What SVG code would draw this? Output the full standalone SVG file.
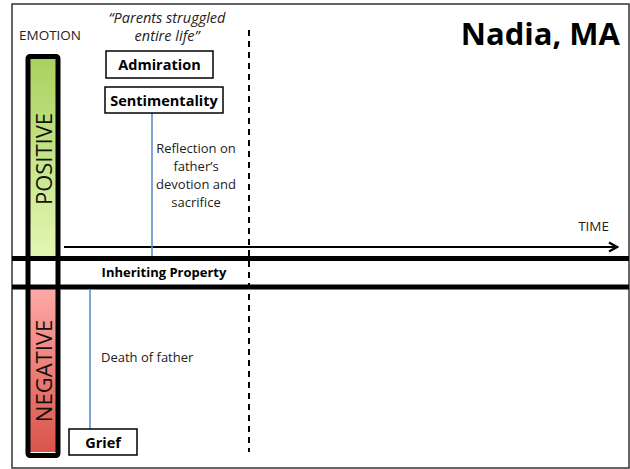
<svg xmlns="http://www.w3.org/2000/svg" width="630" height="469" viewBox="0 0 630 469">
  <defs>
    <linearGradient id="posFill" x1="0" y1="0" x2="0" y2="1">
      <stop offset="0" stop-color="#a9d15e"/>
      <stop offset="1" stop-color="#e3f7b3"/>
    </linearGradient>
    <linearGradient id="negFill" x1="0" y1="0" x2="0" y2="1">
      <stop offset="0" stop-color="#ffa9a6"/>
      <stop offset="1" stop-color="#d9544a"/>
    </linearGradient>
    <marker id="arrowHead" markerWidth="12" markerHeight="12" refX="10" refY="6" orient="auto" markerUnits="userSpaceOnUse">
      <path d="M2,1.5 L10,6 L2,10.5" fill="none" stroke="#000" stroke-width="2.2"/>
    </marker>
    <style>
      .lbl { font-family: "Open Sans", "Liberation Sans", Arial, sans-serif; font-size: 13px; fill: #222; }
      .boxTxt { font-family: "Open Sans", "Liberation Sans", Arial, sans-serif; font-size: 14.5px; font-weight: bold; fill: #000; text-anchor: middle; }
      .box { fill: #fff; stroke: #000; stroke-width: 1.5; }
      .link { stroke: #5b8fc7; stroke-width: 1.6; fill: none; }
      .thick { stroke: #000; stroke-width: 5; }
    </style>
  </defs>

  <!-- frame -->
  <rect x="12" y="4" width="617" height="464" fill="#fff" stroke="#333" stroke-width="1.5"/>

  <!-- title -->
  <text x="620" y="45" text-anchor="end" style="font-family: 'Open Sans','Liberation Sans',Arial,sans-serif; font-size: 31px; font-weight: bold;" fill="#000">Nadia, MA</text>

  <!-- axis labels -->
  <text x="19" y="40" class="lbl" style="font-size: 13.5px;">EMOTION</text>
  <text x="609" y="231" class="lbl" text-anchor="end" style="font-size: 13.5px;">TIME</text>

  <!-- emotion scale column -->
  <g id="scale">
    <rect x="30" y="58" width="27" height="200" fill="url(#posFill)"/>
    <rect x="30" y="258" width="27" height="30" fill="#fff"/>
    <rect x="30" y="288" width="27" height="164" fill="url(#negFill)"/>
    <rect x="28" y="56.5" width="30" height="399" fill="none" stroke="#000" stroke-width="5" rx="2"/>
    <text transform="translate(52,159) rotate(-90)" text-anchor="middle" style="font-family: 'Open Sans','Liberation Sans',Arial,sans-serif; font-size: 22px;" fill="#111">POSITIVE</text>
    <text transform="translate(52,371) rotate(-90)" text-anchor="middle" style="font-family: 'Open Sans','Liberation Sans',Arial,sans-serif; font-size: 22px;" fill="#111">NEGATIVE</text>
  </g>

  <!-- band lines and time axis -->
  <g id="connectors">
    <line x1="12" y1="258.5" x2="629" y2="258.5" class="thick"/>
    <line x1="12" y1="287" x2="629" y2="287" class="thick"/>
    <line x1="64" y1="247" x2="617" y2="247" stroke="#000" stroke-width="2.2" marker-end="url(#arrowHead)"/>
    <line x1="249" y1="30" x2="249" y2="452" stroke="#000" stroke-width="2" stroke-dasharray="6 5"/>
    <line x1="152" y1="113" x2="152" y2="256" class="link"/>
    <line x1="90" y1="289" x2="90" y2="429" class="link"/>
  </g>

  <!-- quote -->
  <text x="167" y="23" text-anchor="middle" class="lbl" font-style="italic" style="font-size: 14.5px;">“Parents struggled</text>
  <text x="167" y="41" text-anchor="middle" class="lbl" font-style="italic" style="font-size: 14.5px;">entire life”</text>

  <g id="admiration">
    <rect x="106" y="51" width="107" height="27" class="box"/>
    <text x="159.5" y="70" class="boxTxt">Admiration</text>
  </g>

  <g id="sentimentality">
    <rect x="105" y="87" width="118" height="26" class="box"/>
    <text x="164" y="105.5" class="boxTxt">Sentimentality</text>
  </g>

  <g id="reflection">
    <text x="196" y="153" text-anchor="middle" class="lbl">Reflection on</text>
    <text x="196" y="171" text-anchor="middle" class="lbl">father’s</text>
    <text x="196" y="189" text-anchor="middle" class="lbl">devotion and</text>
    <text x="196" y="207" text-anchor="middle" class="lbl">sacrifice</text>
  </g>

  <g id="inheriting">
    <text x="164" y="276.5" class="boxTxt" style="font-size: 13px;">Inheriting Property</text>
  </g>

  <g id="death">
    <text x="101" y="362" class="lbl">Death of father</text>
  </g>

  <g id="grief">
    <rect x="69" y="429" width="68" height="26" class="box"/>
    <text x="103" y="447.5" class="boxTxt">Grief</text>
  </g>
</svg>
